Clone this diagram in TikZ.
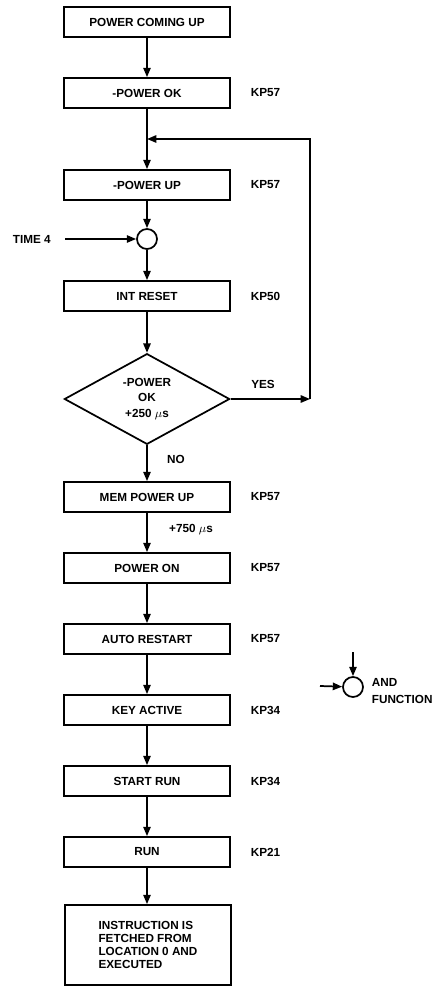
\documentclass[tikz,border=0pt]{standalone}
\usepackage{fontspec}
\setmainfont{Liberation Sans}
\usetikzlibrary{arrows.meta,shapes.geometric}
\tikzset{
  blk/.style={draw, rectangle, minimum width=124pt, minimum height=22.5pt, inner sep=0pt},
  dec/.style={draw, diamond, aspect=1.8, inner sep=0pt, minimum width=124pt, minimum height=68pt, align=center,
    font=\fontsize{8.8}{11.6}\selectfont\bfseries},
  gate/.style={draw, circle, minimum size=15pt, inner sep=0pt},
  flow/.style={-{Triangle[length=7pt,width=5.5pt]}},
}
\begin{document}
\begin{tikzpicture}[x=.75pt, y=-.75pt, line width=1.3pt, font=\fontsize{8.8}{10}\selectfont\bfseries]
\useasboundingbox (0,0) rectangle (436,988);
\foreach \n/\y/\t in {pcu/22/POWER COMING UP, pok/93/-POWER OK, pup/185/-POWER UP, ir/296/INT RESET,
  mpu/497/MEM POWER UP, pon/568/POWER ON, ar/639/AUTO RESTART, ka/710/KEY ACTIVE, sr/781/START RUN, run/852/RUN}
  \node[blk] (\n) at (147,\y) {\t};
\node[gate] (and) at (147,239) {};
\node[dec] (pok2) at (147,399) {-POWER\\OK\\+250 $\mu$s};
\node[blk, minimum height=60pt, align=left, text depth=-4pt, font=\fontsize{8.8}{9.75}\selectfont\bfseries] (ins) at (148,945)
  {INSTRUCTION IS\\FETCHED FROM\\LOCATION 0 AND\\EXECUTED};
\foreach \n/\k in {pok/KP57, pup/KP57, ir/KP50, mpu/KP57, pon/KP57, ar/KP57, ka/KP34, sr/KP34, run/KP21}
  \node[anchor=west, inner sep=0pt] (kp-\n) at (250,0 |- \n) {\k};
\foreach \a/\b in {pcu/pok, pok/pup, pup/and, and/ir, ir/pok2, pok2/mpu, mpu/pon, pon/ar, ar/ka, ka/sr, sr/run}
  \draw[flow] (\a) -- (\b);
\draw[flow] (run) -- (run |- ins.north);
\node[anchor=west, inner sep=0pt] (time) at (12,239) {TIME 4};
\draw[flow] (65,239) -- (and);
\coordinate (yes) at (310,399);
\coordinate (top) at (310,139);
\coordinate (jn) at (147,139);
\draw[flow] (pok2.east) -- (yes);
\draw[flow] (yes) -- (top) -- (jn);
\node[inner sep=0pt] (yeslbl) at (263,384) {YES};
\node[inner sep=0pt] (nolbl) at (176,459) {NO};
\node[inner sep=0pt] (dly) at (191,530) {+750 $\mu$s};
\node[gate] (key) at (353,687) {};
\coordinate (kn) at (353,652);
\coordinate (kw) at (320,686);
\draw[flow] (kn) -- (key);
\draw[flow] (kw) -- (key);
\node[anchor=west, align=left, inner sep=0pt, font=\fontsize{8.8}{12.75}\selectfont\bfseries] (keylbl) at (371,691) {AND\\FUNCTION};
\end{tikzpicture}
\end{document}
